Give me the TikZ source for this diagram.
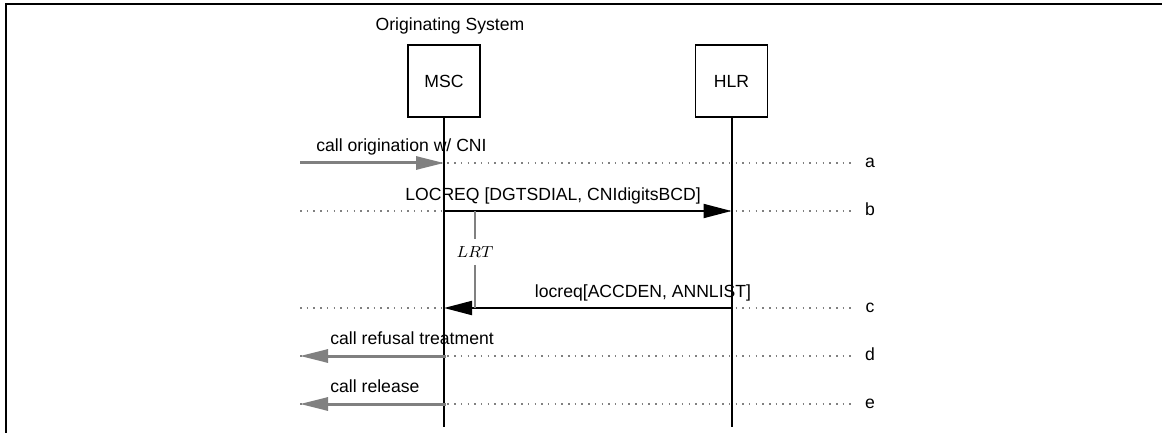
\documentclass[tikz,border=0pt]{standalone}
\usepackage{fontspec}
\setmainfont{Liberation Sans}
\usetikzlibrary{arrows.meta,positioning}

\definecolor{extgray}{RGB}{128,128,128}

\tikzset{
  entity/.style={draw,line width=0.85pt,minimum width=36pt,minimum height=36pt,inner sep=0pt},
  life/.style={line width=1pt},
  msg/.style={line width=1pt,-{Triangle[length=14pt,width=7pt]}},
  ext/.style={line width=1.5pt,extgray,-{Triangle[length=14pt,width=6.5pt]}},
  dots/.style={extgray,line width=0.75pt,dash pattern=on 0.75pt off 2.6pt},
  timer/.style={line width=1pt,extgray}
}

\begin{document}
\begin{tikzpicture}[x=0.5pt,y=-0.5pt,inner sep=0pt,font=\fontsize{8.8}{10}\selectfont]
\useasboundingbox (0,0) rectangle (1162,433);
\draw[line width=1pt] (6,433) -- (6,4) -- (1162,4);

\node[anchor=base] (orig) at (450,31) {Originating System};
\node[entity] (msc) at (444,81) {MSC};
\node[entity] (hlr) at (731.5,81) {HLR};

\coordinate (mscEnd) at (444,427);
\coordinate (hlrEnd) at (731.5,427);

% rows a..e
\foreach \r/\y in {a/163,b/211,c/308,d/356,e/404} {
  \coordinate (L\r) at (300,\y);
  \coordinate (R\r) at (851,\y);
  \coordinate (M\r) at (444,\y);
  \coordinate (H\r) at (731.5,\y);
  \node[anchor=base] (\r) at (870,\y+4.5) {\r};
  \draw[dots] (L\r) -- (R\r);
}

\draw[life] (msc) -- (mscEnd);
\draw[life] (hlr) -- (hlrEnd);

\draw[ext] (La) -- (Ma);
\draw[msg] (Mb) -- (Hb);
\draw[msg] (Hc) -- (Mc);
\draw[ext] ([xshift=1pt]Md) -- (Ld);
\draw[ext] ([xshift=1pt]Me) -- (Le);

\node[anchor=base west] (lblA) at (316,152) {call origination w/ CNI};
\node[anchor=base] (lblB) at (553,200) {LOCREQ [DGTSDIAL, CNIdigitsBCD]};
\node[anchor=base] (lblC) at (643,297) {locreq[ACCDEN, ANNLIST]};
\node[anchor=base west] (lblD) at (330,344) {call refusal treatment};
\node[anchor=base west] (lblE) at (330,392) {call release};

% response timer
\coordinate (Tb) at (475,211);
\coordinate (Tc) at (475,308);
\node[inner sep=3.5pt,font=\fontsize{7.7}{9}\selectfont] (lrt) at (475,252) {$LRT$};
\draw[timer] (Tb) -- (lrt);
\draw[timer] (lrt) -- (Tc);
\end{tikzpicture}
\end{document}
